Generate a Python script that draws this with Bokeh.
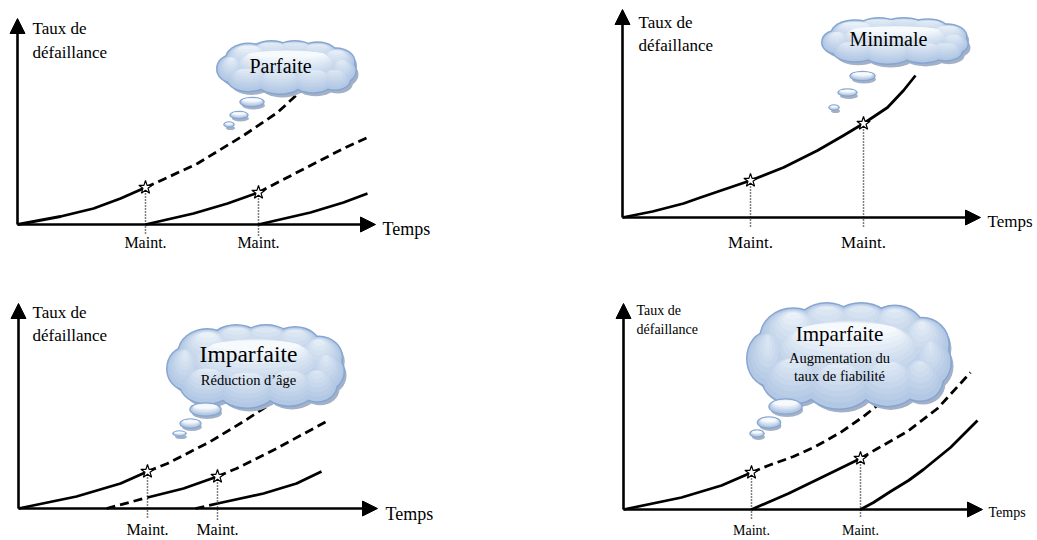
from bokeh.plotting import figure
from bokeh.layouts import gridplot
from bokeh.models import Arrow, NormalHead, Range1d
from bokeh.core.properties import value
from bokeh.embed import file_html
from bokeh.resources import INLINE

# ---------------- DATA (time along x, failure rate along y) ----------------
# Panel 1 : Parfaite
P1_MAINT = [128, 241]
P1_STAR_Y = [37, 32]
P1_A_X = [0, 43, 76, 103, 128]
P1_A_Y = [0, 8, 16, 26, 37]
P1_A_DASH_X = [128, 150, 180, 226, 260, 286]
P1_A_DASH_Y = [37, 47, 61, 89, 112, 136]
P1_B_X = [128, 176, 210, 241]
P1_B_Y = [0, 11, 21, 32]
P1_B_DASH_X = [241, 260, 293, 326, 350]
P1_B_DASH_Y = [32, 42, 59, 76, 87]
P1_C_X = [241, 293, 326, 350]
P1_C_Y = [0, 12, 22, 31]

# Panel 2 : Minimale
P2_MAINT = [128, 241]
P2_STAR_Y = [37, 94]
P2_A_X = [0, 30, 61, 78, 128, 161, 195, 221, 241, 265, 281, 293]
P2_A_Y = [0, 6, 14, 20, 37, 50, 67, 82, 94, 110, 127, 142]

# Panel 3 : Imparfaite - réduction d'âge
P3_MAINT = [129, 199]
P3_STAR_Y = [37, 32]
P3_A_X = [0, 58, 102, 129]
P3_A_Y = [0, 12, 25, 37]
P3_A_DASH_X = [129, 149, 192, 225, 265]
P3_A_DASH_Y = [37, 45, 67, 87, 113]
P3_B_PRE_X = [88, 129]
P3_B_PRE_Y = [0, 11]
P3_B_X = [129, 165, 199]
P3_B_Y = [11, 20, 32]
P3_B_DASH_X = [199, 218, 258, 308]
P3_B_DASH_Y = [32, 40, 60, 87]
P3_C_PRE_X = [177, 199]
P3_C_PRE_Y = [0, 5]
P3_C_X = [199, 245, 278, 303]
P3_C_Y = [5, 15, 25, 37]

# Panel 4 : Imparfaite - augmentation du taux
P4_MAINT = [128, 237]
P4_STAR_Y = [37, 51]
P4_A_X = [0, 58, 98, 128]
P4_A_Y = [0, 12, 24, 37]
P4_A_DASH_X = [128, 145, 170, 192, 217, 240, 260, 268]
P4_A_DASH_Y = [37, 44, 53, 63, 77, 93, 109, 116]
P4_B_X = [128, 165, 198, 237]
P4_B_Y = [0, 16, 32, 51]
P4_B_DASH_X = [237, 254, 284, 314, 347]
P4_B_DASH_Y = [51, 61, 78, 101, 137]
P4_C_X = [237, 250, 267, 285, 300, 327, 354]
P4_C_Y = [0, 7, 18, 29, 40, 62, 89]

Y_LABEL = ["Taux de", "défaillance"]
X_LABEL = "Temps"
MAINT_LABEL = "Maint."
TITLES = ["Parfaite", "Minimale", "Imparfaite", "Imparfaite"]
SUBTITLES_3 = ["Réduction d’âge"]
SUBTITLES_4 = ["Augmentation du", "taux de fiabilité"]

# ---------------- STYLE ----------------
FONT = value("Liberation Serif")
OUTLINE = "#86a5d1"
SHADOW = "#a3b1c6"
FILL_BOTTOM = (178, 200, 228)
FILL_TOP = (247, 250, 253)
LW = 2.8
DASH = "9 5"

CLOUD_LOBES = [
    (0.0, 0.0, 0.78, 0.72),
    (-0.55, 0.35, 0.32, 0.55),
    (-0.22, 0.55, 0.30, 0.45),
    (0.12, 0.58, 0.30, 0.42),
    (0.45, 0.50, 0.28, 0.45),
    (0.72, 0.22, 0.26, 0.50),
    (0.80, -0.12, 0.20, 0.45),
    (-0.80, -0.05, 0.20, 0.50),
    (-0.55, -0.45, 0.30, 0.45),
    (-0.10, -0.55, 0.33, 0.45),
    (0.38, -0.50, 0.30, 0.45),
    (0.70, -0.45, 0.22, 0.40),
]


def mix(t):
    c = [round(FILL_BOTTOM[i] + (FILL_TOP[i] - FILL_BOTTOM[i]) * t) for i in range(3)]
    return "#%02x%02x%02x" % tuple(c)


def make_fig(w, h, x0, y0):
    p = figure(width=w, height=h, x_range=Range1d(x0, x0 + w), y_range=Range1d(y0, y0 + h),
               output_backend="svg", toolbar_location=None,
               x_axis_location=None, y_axis_location=None, min_border=0,
               outline_line_color=None, background_fill_color="white",
               border_fill_color="white")
    p.grid.grid_line_color = None
    return p


def axes(p, ytop, xtip):
    for xe, ye in [(0, ytop), (xtip, 0)]:
        p.add_layout(Arrow(end=NormalHead(size=15, fill_color="black", line_color="black", line_width=1),
                           x_start=0, y_start=0, x_end=xe, y_end=ye,
                           line_width=2.6, line_color="black"))


def blobs(p, xs, ys, ws, hs, layers, dmax, sx=3, sy=-4, grow=3):
    p.ellipse(x=[x + sx for x in xs], y=[y + sy for y in ys], width=ws, height=hs,
              fill_color=SHADOW, line_color=None)
    p.ellipse(x=xs, y=ys, width=[w + grow for w in ws], height=[h + grow for h in hs],
              fill_color=OUTLINE, line_color=None)
    for k in range(layers + 1):
        t = k / layers
        X, Y, W, H = [], [], [], []
        for x, y, w, h, dm in zip(xs, ys, ws, hs, dmax):
            d = dm * t
            if w - 2 * d > 0.5 and h - 2 * d > 0.5:
                X.append(x); Y.append(y + 0.85 * d); W.append(w - 2 * d); H.append(h - 2 * d)
        if X:
            p.ellipse(x=X, y=Y, width=W, height=H, fill_color=mix(t), line_color=None)


def cloud(p, cx, cy, A, B):
    xs = [cx + dx * A for dx, dy, rx, ry in CLOUD_LOBES]
    ys = [cy + dy * B for dx, dy, rx, ry in CLOUD_LOBES]
    ws = [2 * rx * A for dx, dy, rx, ry in CLOUD_LOBES]
    hs = [2 * ry * B for dx, dy, rx, ry in CLOUD_LOBES]
    blobs(p, xs, ys, ws, hs, 10, [0.6 * B] * len(xs))


def bubbles(p, bx, by, bw, bh):
    blobs(p, bx, by, bw, bh, 4, [0.3 * h for h in bh], sx=1.5, sy=-3.5, grow=2.5)


def curve(p, xs, ys, dashed=False):
    p.line(xs, ys, line_width=LW, line_color="black", line_dash=DASH if dashed else "solid",
           line_join="round")


def maint(p, mx, sy, ybot):
    p.segment(x0=mx, y0=sy, x1=mx, y1=[ybot] * len(mx), line_dash="1 2",
              line_width=1.5, line_color="black")


def stars(p, mx, sy):
    p.scatter(mx, sy, marker="star", size=14, fill_color="white", line_color="black", line_width=1.2)


def text(p, xs, ys, t, size, align="left"):
    p.text(x=xs, y=ys, text=t, text_font=FONT, text_font_size=f"{size}px",
           text_align=align, text_baseline="middle", text_color="black")


# ---------------- Panel 1 ----------------
p1 = make_fig(518, 270, -17, -46)
axes(p1, 206, 358)
curve(p1, P1_A_X, P1_A_Y); curve(p1, P1_A_DASH_X, P1_A_DASH_Y, True)
curve(p1, P1_B_X, P1_B_Y); curve(p1, P1_B_DASH_X, P1_B_DASH_Y, True)
curve(p1, P1_C_X, P1_C_Y)
maint(p1, P1_MAINT, P1_STAR_Y, -11)
stars(p1, P1_MAINT, P1_STAR_Y)
cloud(p1, 269, 157, 69, 26)
bubbles(p1, [234.5, 221.5, 211.5], [122.5, 109.5, 100], [23, 17, 9], [8, 6, 4])
text(p1, [15, 15], [196, 172], Y_LABEL, 17)
text(p1, [365], [-4], [X_LABEL], 18)
text(p1, P1_MAINT, [-18, -18], [MAINT_LABEL] * 2, 16, "center")
text(p1, [263], [159], [TITLES[0]], 20, "center")

# ---------------- Panel 2 ----------------
p2 = make_fig(518, 270, -104, -53)
axes(p2, 208, 358)
curve(p2, P2_A_X, P2_A_Y)
maint(p2, P2_MAINT, P2_STAR_Y, -10)
stars(p2, P2_MAINT, P2_STAR_Y)
cloud(p2, 272.5, 176.5, 72.5, 22.5)
bubbles(p2, [240, 225, 211.5], [141.5, 125, 110], [24, 18, 9], [8, 6, 4])
text(p2, [16, 16], [195, 172], Y_LABEL, 17)
text(p2, [365], [-4], [X_LABEL], 17)
text(p2, P2_MAINT, [-25, -25], [MAINT_LABEL] * 2, 17, "center")
text(p2, [266], [179], [TITLES[1]], 20, "center")

# ---------------- Panel 3 ----------------
p3 = make_fig(518, 270, -18, -32)
axes(p3, 205, 359)
curve(p3, P3_A_X, P3_A_Y); curve(p3, P3_A_DASH_X, P3_A_DASH_Y, True)
curve(p3, P3_B_PRE_X, P3_B_PRE_Y, True); curve(p3, P3_B_X, P3_B_Y)
curve(p3, P3_B_DASH_X, P3_B_DASH_Y, True)
curve(p3, P3_C_PRE_X, P3_C_PRE_Y, True); curve(p3, P3_C_X, P3_C_Y)
maint(p3, P3_MAINT, P3_STAR_Y, -11)
stars(p3, P3_MAINT, P3_STAR_Y)
cloud(p3, 237, 142, 88, 41)
bubbles(p3, [187, 172, 161], [99, 85, 75], [30, 20, 12], [12, 8, 4])
text(p3, [14, 14], [196, 173], Y_LABEL, 17)
text(p3, [367], [-5], [X_LABEL], 18)
text(p3, P3_MAINT, [-21, -21], [MAINT_LABEL] * 2, 16, "center")
text(p3, [230], [155], [TITLES[2]], 23.5, "center")
text(p3, [230], [129], SUBTITLES_3, 14.5, "center")

# ---------------- Panel 4 ----------------
p4 = make_fig(518, 270, -105, -31)
axes(p4, 206, 359)
curve(p4, P4_A_X, P4_A_Y); curve(p4, P4_A_DASH_X, P4_A_DASH_Y, True)
curve(p4, P4_B_X, P4_B_Y); curve(p4, P4_B_DASH_X, P4_B_DASH_Y, True)
curve(p4, P4_C_X, P4_C_Y)
maint(p4, P4_MAINT, P4_STAR_Y, -9)
stars(p4, P4_MAINT, P4_STAR_Y)
cloud(p4, 225.5, 153.5, 101.5, 52.5)
bubbles(p4, [162, 145.5, 133.5], [103, 87, 76], [32, 22, 13], [14, 10, 6])
text(p4, [13, 13], [199, 180], Y_LABEL, 14)
text(p4, [365], [-3], [X_LABEL], 14)
text(p4, P4_MAINT, [-21, -21], [MAINT_LABEL] * 2, 14, "center")
text(p4, [216], [176], [TITLES[3]], 21, "center")
text(p4, [216, 216], [152, 134], SUBTITLES_4, 14.5, "center")

grid = gridplot([[p1, p2], [p3, p4]], toolbar_location=None)
open("out.html", "w").write(file_html(grid, INLINE))
